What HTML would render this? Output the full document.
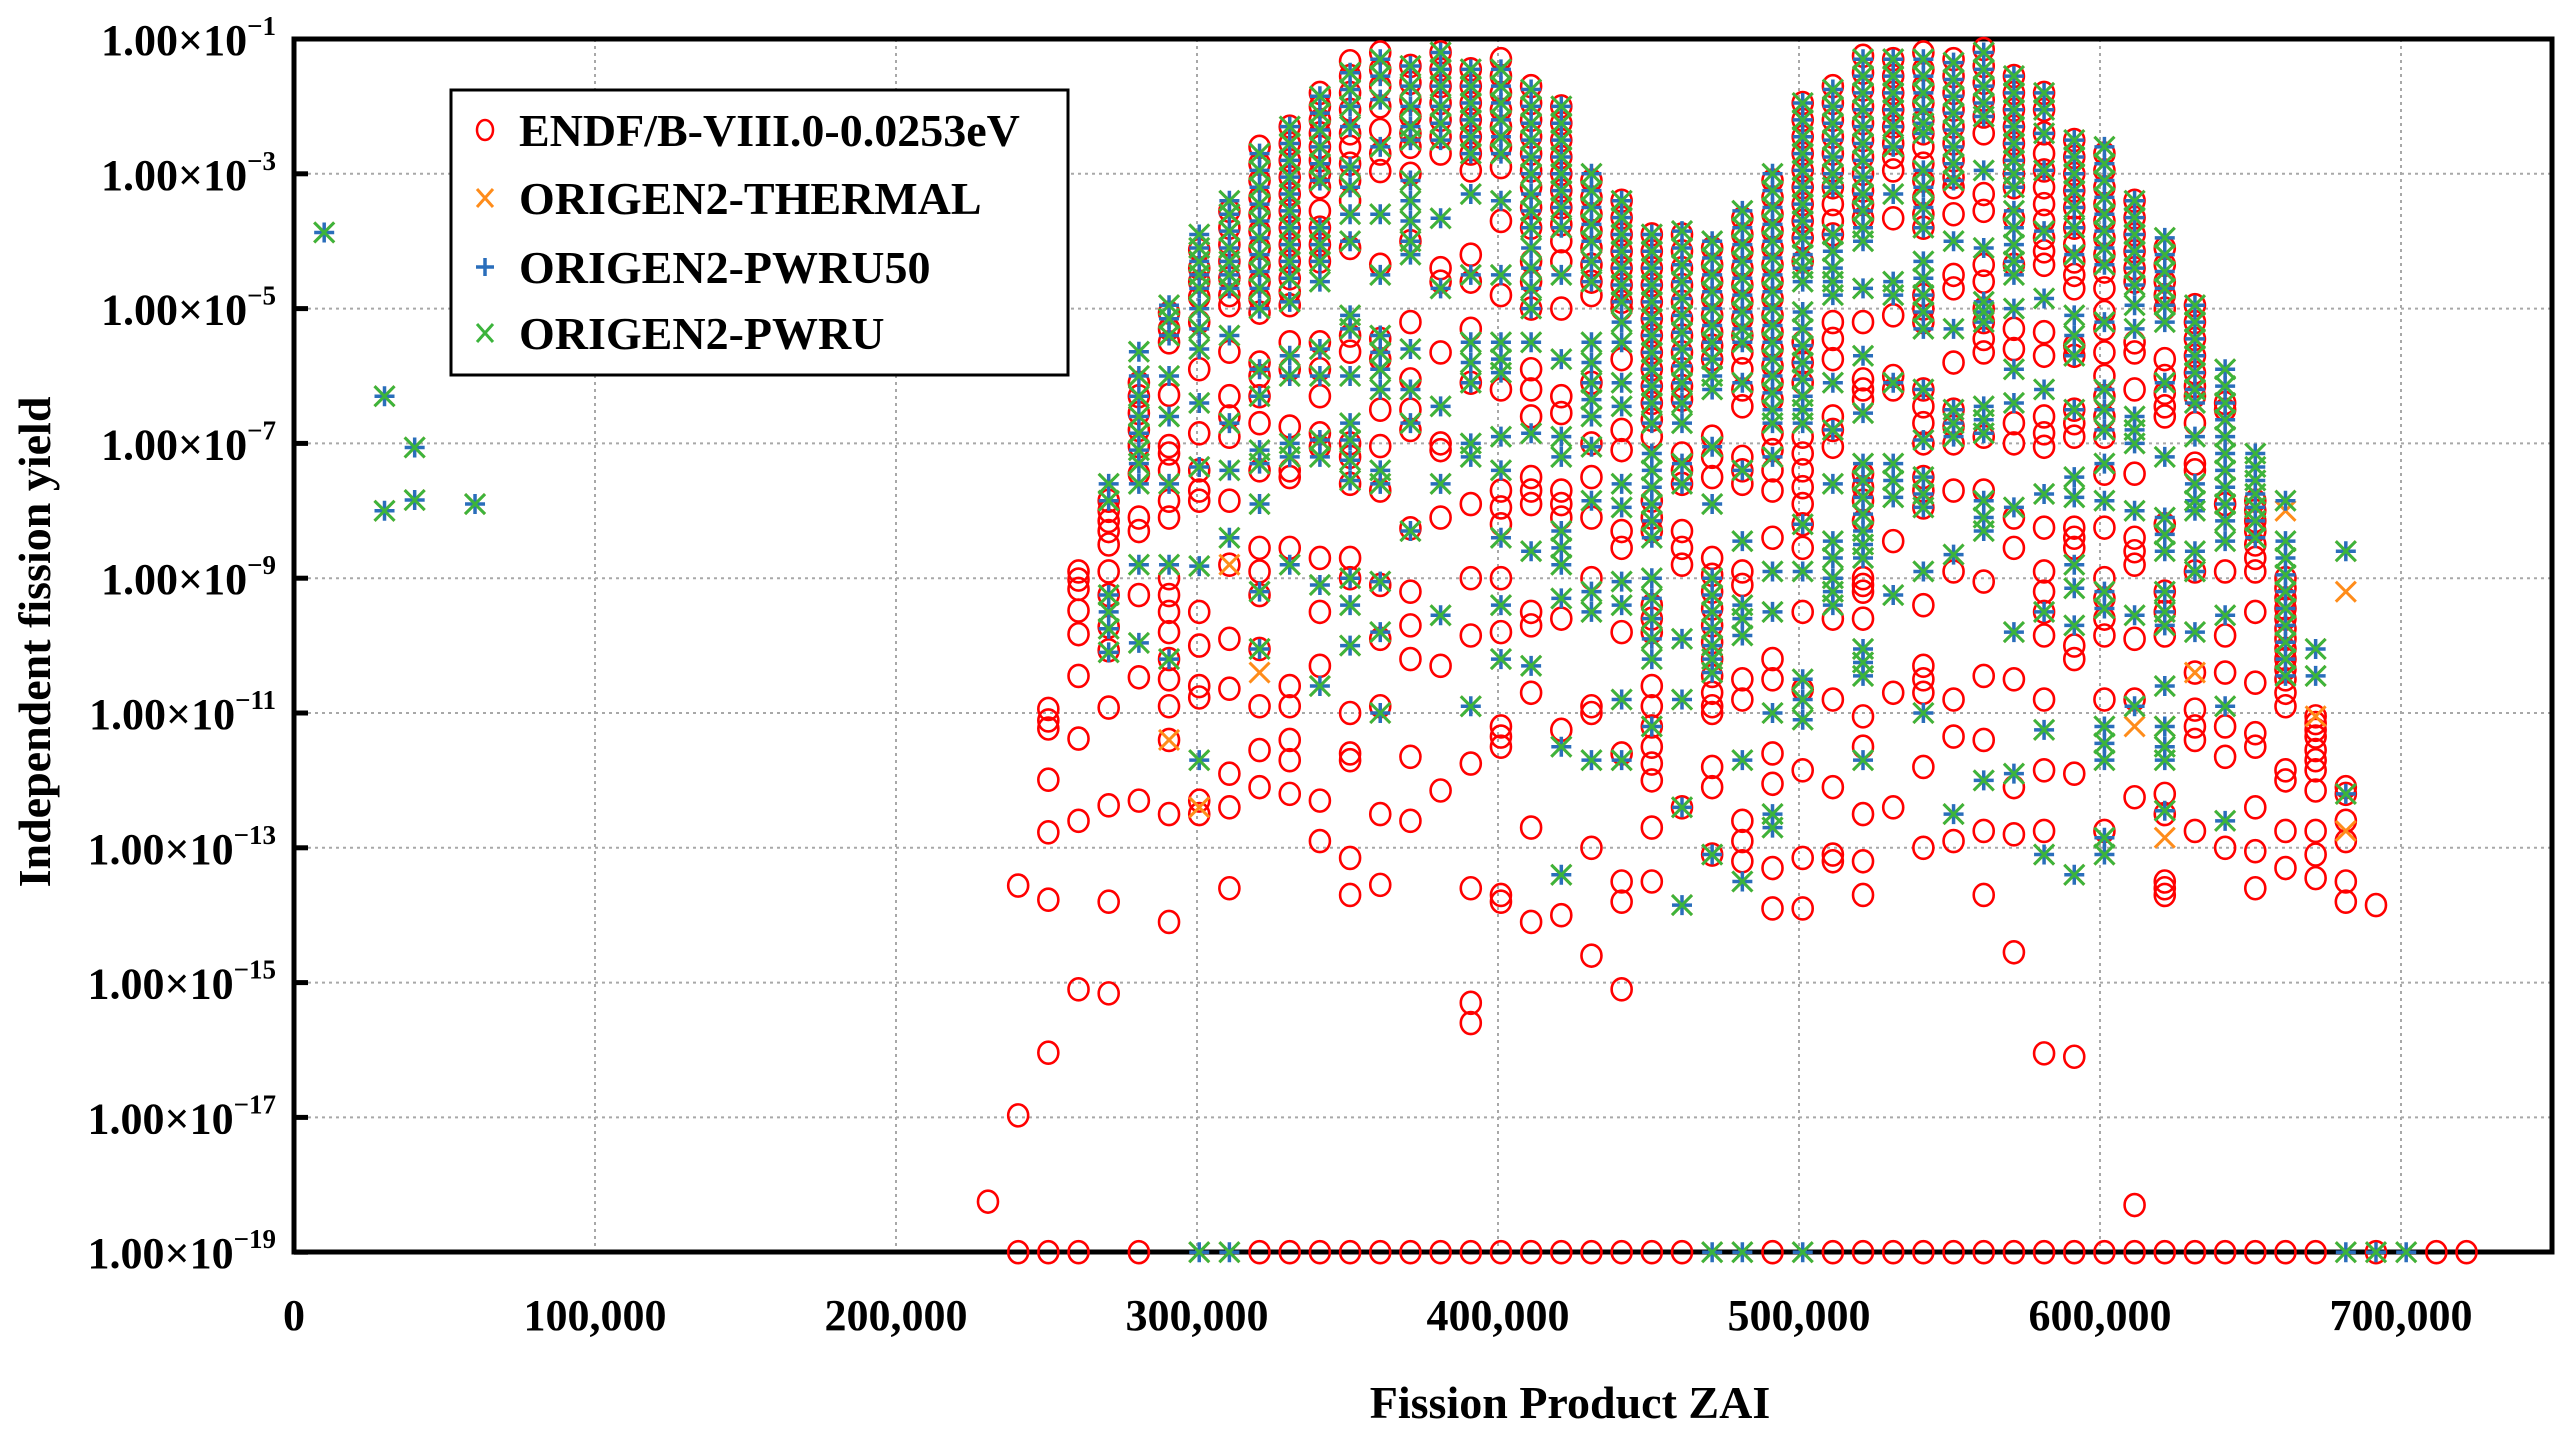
<!DOCTYPE html>
<html><head><meta charset="utf-8"><style>
html,body{margin:0;padding:0;background:#fff;}
svg{display:block;font-family:"Liberation Serif","DejaVu Serif",serif;font-weight:bold;}
</style></head><body>
<svg id="chart" width="2572" height="1438" viewBox="0 0 2572 1438" xmlns="http://www.w3.org/2000/svg">
<rect width="2572" height="1438" fill="#fff"/>
<g id="grid"></g>
<g id="axes"></g>
<g id="marks"></g>
<g id="legend">
  <rect x="451" y="90" width="617" height="285" fill="#fff" stroke="#000" stroke-width="3"/>
  <g>
    <ellipse cx="485" cy="130" rx="8" ry="10" fill="none" stroke="#ff0000" stroke-width="2.5"/>
    <text x="519" y="146" font-size="46">ENDF/B-VIII.0-0.0253eV</text>
  </g>
  <g>
    <path d="M477 189 L493 207 M493 189 L477 207" stroke="#ff8c1a" stroke-width="3"/>
    <text x="519" y="214" font-size="46">ORIGEN2-THERMAL</text>
  </g>
  <g>
    <path d="M476 267 L494 267 M485 258 L485 276" stroke="#2a6ebb" stroke-width="3.5"/>
    <text x="519" y="283" font-size="46">ORIGEN2-PWRU50</text>
  </g>
  <g>
    <path d="M477 324 L493 342 M493 324 L477 342" stroke="#3cb43c" stroke-width="3"/>
    <text x="519" y="349" font-size="46">ORIGEN2-PWRU</text>
  </g>
</g>
<text x="1570" y="1418" font-size="46" text-anchor="middle">Fission Product ZAI</text>
<text x="0" y="0" font-size="46" text-anchor="middle" transform="translate(50,642) rotate(-90)">Independent fission yield</text>
</svg>
<script>
// ---- data (log10 of yield; -19 = floor value 1e-19) ----
const xTicks = [0,100000,200000,300000,400000,500000,600000,700000];
const xTickLabels = ["0","100,000","200,000","300,000","400,000","500,000","600,000","700,000"];
const yTickExps = [-1,-3,-5,-7,-9,-11,-13,-15,-17,-19];

const endfZai = [230560,240590,250610,260640,270660,280690,290710,300740,310760,320780,330810,340830,350860,360880,370910,380930,390960,400980,411000,421030,431050,441080,451100,461130,471150,481180,491200,501230,511250,521270,531300,541320,551350,561370,571400,581420,591450,601470,611490,621520,631540,641570,651590,661620,671640,681670,691690,711740,721760];
const endfExp = [
[-18.25],
[-13.56,-16.97,-19],
[-10.94,-11.11,-11.23,-11.99,-12.77,-13.77,-16.04,-19],
[-8.9,-9.02,-9.16,-9.48,-9.83,-10.45,-11.38,-12.6,-15.1,-19],
[-7.85,-8.0,-8.15,-8.3,-8.5,-8.9,-9.25,-9.72,-10.07,-10.92,-12.37,-13.8,-15.16],
[-6.1,-6.3,-6.55,-6.8,-7.04,-7.45,-8.1,-8.3,-9.25,-10.47,-12.3,-19],
[-5.06,-5.3,-5.5,-6.28,-7.04,-7.15,-7.4,-7.85,-8.1,-9.0,-9.25,-9.5,-9.8,-10.2,-10.5,-10.9,-11.4,-12.5,-14.1],
[-4.13,-4.4,-4.6,-4.83,-5.2,-5.9,-6.85,-7.4,-7.7,-7.85,-9.5,-10.0,-10.6,-10.77,-12.3,-12.5],
[-3.55,-3.8,-4.05,-4.3,-4.55,-4.8,-4.95,-5.64,-6.3,-6.6,-6.9,-7.85,-8.8,-9.9,-10.64,-11.9,-12.4,-13.6],
[-2.6,-2.85,-3.1,-3.35,-3.6,-3.85,-4.1,-4.35,-4.6,-4.85,-5.06,-5.8,-6.0,-6.3,-6.7,-7.4,-8.55,-8.9,-9.25,-10.05,-10.9,-11.55,-12.1,-19],
[-2.3,-2.55,-2.8,-3.05,-3.3,-3.55,-3.8,-4.05,-4.3,-4.55,-4.75,-4.95,-5.5,-5.9,-6.75,-7.4,-7.5,-8.55,-10.6,-10.9,-11.4,-11.7,-12.2,-19],
[-1.8,-2.0,-2.2,-2.4,-2.6,-2.8,-3.0,-3.2,-3.55,-3.8,-4.05,-4.3,-5.5,-5.9,-6.3,-6.85,-7.05,-8.7,-9.5,-10.3,-12.3,-12.9,-19],
[-1.33,-1.55,-1.8,-2.05,-2.4,-2.6,-2.85,-3.1,-3.4,-4.1,-5.4,-5.64,-7.0,-7.2,-7.6,-8.7,-9.0,-11.0,-11.6,-11.7,-13.15,-13.7,-19],
[-1.2,-1.45,-1.7,-2.0,-2.35,-2.7,-2.96,-4.35,-5.45,-5.75,-6.5,-7.04,-7.7,-9.1,-9.9,-10.9,-12.5,-13.55,-19],
[-1.4,-1.65,-1.9,-2.15,-2.4,-2.6,-3.0,-4.0,-5.2,-6.05,-6.5,-6.8,-8.26,-9.2,-9.7,-10.2,-11.65,-12.6,-19],
[-1.2,-1.45,-1.7,-1.95,-2.2,-2.45,-2.7,-4.4,-4.6,-5.65,-7.0,-7.1,-8.1,-10.3,-12.15,-19],
[-1.45,-1.7,-1.95,-2.2,-2.45,-2.7,-2.95,-4.2,-4.6,-5.3,-6.1,-7.9,-9.0,-9.85,-11.75,-13.6,-15.3,-15.6,-19],
[-1.3,-1.55,-1.8,-2.05,-2.3,-2.6,-2.9,-3.7,-4.8,-6.2,-7.7,-7.95,-8.2,-9.0,-9.8,-11.2,-11.35,-11.5,-13.7,-13.8,-19],
[-1.7,-1.95,-2.2,-2.45,-2.7,-2.95,-3.2,-3.5,-3.8,-4.3,-4.6,-5.0,-5.9,-6.2,-6.6,-7.5,-7.7,-7.9,-9.5,-9.7,-10.7,-12.7,-14.1,-19],
[-2.0,-2.25,-2.5,-2.75,-3.0,-3.25,-3.5,-3.75,-4.0,-4.3,-5.0,-6.3,-6.55,-7.7,-7.9,-8.1,-9.6,-11.25,-14.0,-19],
[-3.1,-3.35,-3.6,-3.85,-4.1,-4.35,-4.6,-4.8,-6.1,-7.0,-7.5,-8.1,-9.0,-10.9,-11.0,-13.0,-14.6,-19],
[-3.4,-3.65,-3.9,-4.15,-4.4,-4.65,-4.9,-5.0,-5.75,-6.8,-7.1,-8.3,-8.55,-9.8,-11.6,-13.5,-13.8,-15.1,-19],
[-3.9,-4.15,-4.4,-4.65,-4.9,-5.15,-5.4,-5.65,-5.9,-6.15,-6.4,-6.65,-6.9,-7.85,-8.1,-8.3,-9.4,-9.6,-9.8,-10.6,-10.9,-11.2,-11.5,-11.75,-12.0,-12.7,-13.5,-19],
[-3.9,-4.15,-4.4,-4.65,-4.9,-5.15,-5.4,-5.65,-5.9,-6.15,-6.35,-7.15,-7.4,-7.6,-8.3,-8.55,-8.8,-12.4,-19],
[-4.1,-4.35,-4.6,-4.85,-5.1,-5.35,-5.55,-5.75,-6.9,-7.2,-7.5,-8.7,-8.95,-9.2,-9.45,-9.7,-9.95,-10.2,-10.45,-10.7,-10.9,-11.0,-11.8,-12.1,-13.1],
[-3.66,-3.9,-4.15,-4.4,-4.65,-4.9,-5.15,-5.4,-5.65,-5.9,-6.2,-6.45,-7.2,-7.4,-7.6,-8.9,-9.1,-10.5,-10.8,-12.6,-12.9,-13.2],
[-3.1,-3.35,-3.6,-3.85,-4.1,-4.35,-4.6,-4.85,-5.1,-5.35,-5.6,-5.85,-6.1,-6.35,-6.85,-7.1,-7.4,-7.7,-8.4,-10.2,-10.5,-11.6,-12.05,-13.3,-13.9,-19],
[-1.95,-2.2,-2.45,-2.7,-2.95,-3.2,-3.45,-3.7,-3.95,-4.3,-5.5,-5.8,-6.1,-6.9,-7.15,-7.4,-7.65,-7.9,-8.2,-8.55,-9.5,-10.65,-11.85,-13.15,-13.9],
[-1.7,-1.95,-2.2,-2.45,-2.7,-2.95,-3.2,-3.45,-3.7,-3.9,-5.2,-5.45,-5.75,-6.6,-6.8,-7.05,-9.6,-10.8,-12.1,-13.1,-13.2,-19],
[-1.25,-1.5,-1.75,-2.0,-2.25,-2.5,-2.75,-3.0,-3.25,-3.45,-3.66,-5.2,-6.05,-6.2,-6.35,-7.45,-7.65,-7.85,-8.15,-9.0,-9.1,-9.2,-9.6,-11.05,-11.5,-12.5,-13.2,-13.7,-19],
[-1.3,-1.55,-1.8,-2.05,-2.3,-2.55,-2.75,-2.95,-3.66,-5.1,-6.0,-6.2,-8.45,-10.7,-12.4,-19],
[-1.2,-1.45,-1.7,-1.95,-2.2,-2.4,-2.6,-2.85,-3.1,-3.35,-3.6,-3.8,-4.8,-5.0,-5.2,-6.2,-6.45,-6.7,-7.0,-7.5,-7.7,-7.95,-9.4,-10.3,-10.5,-10.7,-11.8,-13.0,-19],
[-1.3,-1.55,-1.8,-2.05,-2.3,-2.55,-2.8,-3.05,-3.2,-3.6,-4.5,-4.7,-5.8,-6.5,-6.75,-7.0,-7.7,-8.9,-10.8,-11.35,-12.9,-19],
[-1.15,-1.4,-1.65,-1.9,-2.15,-2.4,-3.3,-3.55,-4.35,-4.6,-5.0,-5.2,-5.45,-5.65,-6.9,-7.7,-9.05,-10.45,-11.4,-12.75,-13.7,-19],
[-1.55,-1.8,-2.05,-2.3,-2.55,-2.8,-3.0,-3.2,-3.66,-4.35,-5.3,-5.6,-6.7,-7.0,-8.1,-8.55,-10.5,-12.1,-12.8,-14.55,-19],
[-1.8,-2.05,-2.4,-2.7,-2.95,-3.2,-3.45,-3.7,-3.95,-4.15,-4.35,-5.35,-5.7,-6.6,-6.85,-7.05,-8.25,-8.9,-9.2,-9.5,-9.85,-10.8,-11.85,-12.75,-16.05,-19],
[-2.5,-2.75,-3.0,-3.25,-3.5,-3.8,-4.05,-4.3,-4.5,-4.7,-5.55,-5.7,-6.5,-6.7,-6.9,-8.25,-8.4,-8.55,-10.0,-10.2,-11.9,-16.1,-19],
[-2.7,-2.95,-3.2,-3.45,-3.7,-3.95,-4.2,-4.45,-4.7,-5.05,-5.3,-5.65,-6.0,-6.3,-6.6,-6.9,-7.45,-8.25,-9.0,-9.3,-9.6,-9.85,-10.8,-12.75,-19],
[-3.4,-3.65,-3.9,-4.15,-4.4,-4.6,-5.5,-5.65,-6.2,-7.45,-8.4,-8.6,-8.8,-9.9,-10.8,-12.25,-18.3,-19],
[-4.1,-4.35,-4.6,-4.8,-5.0,-5.75,-6.0,-6.25,-6.45,-6.6,-8.2,-9.2,-9.5,-9.85,-12.2,-12.5,-13.5,-13.6,-13.7,-19],
[-4.95,-5.2,-5.45,-5.7,-5.95,-6.15,-6.3,-6.7,-7.3,-7.4,-8.9,-10.4,-10.95,-11.2,-11.4,-12.75,-19],
[-6.4,-6.5,-7.9,-8.9,-9.85,-10.4,-11.2,-11.65,-13.0,-19],
[-7.85,-8.0,-8.15,-8.3,-8.5,-8.7,-8.9,-9.5,-10.55,-11.3,-11.5,-12.4,-13.05,-13.6,-19],
[-9.0,-9.15,-9.3,-9.45,-9.6,-9.75,-9.9,-10.05,-10.2,-10.35,-10.5,-10.7,-10.9,-11.85,-12.0,-12.75,-13.3,-19],
[-11.05,-11.15,-11.25,-11.35,-11.55,-11.7,-11.85,-12.15,-12.75,-13.1,-13.45,-19],
[-12.1,-12.2,-12.6,-12.9,-13.5,-13.8],
[-13.85,-19],
[-19],
[-19]
];

const origenZai = [10030,30070,40090,60140,270660,280690,290710,300740,310760,320780,330810,340830,350860,360880,370910,380930,390960,400980,411000,421030,431050,441080,451100,461130,471150,481180,491200,501230,511250,521270,531300,541320,551350,561370,571400,581420,591450,601470,611490,621520,631540,641570,651590,661620,671640,681670,691690,701720];
const origenExp = [
[-3.87],
[-6.3,-8.0],
[-7.06,-7.84],
[-7.9],
[-7.6,-7.85,-9.25,-9.5,-9.75,-10.1],
[-5.64,-6.0,-6.3,-6.6,-6.85,-7.1,-7.3,-7.6,-8.8,-9.96],
[-4.95,-5.15,-5.4,-6.0,-6.6,-7.6,-8.8,-10.2],
[-3.9,-4.1,-4.3,-4.5,-4.7,-5.0,-5.3,-5.6,-6.4,-7.35,-8.82,-11.7,-19],
[-3.4,-3.6,-3.85,-4.1,-4.3,-4.5,-4.7,-5.4,-6.7,-7.4,-8.4,-19],
[-2.7,-2.95,-3.2,-3.45,-3.7,-3.95,-4.2,-4.45,-4.7,-5.0,-5.9,-6.3,-7.1,-7.3,-7.9,-9.2,-10.05],
[-2.3,-2.55,-2.8,-3.05,-3.3,-3.55,-3.8,-4.05,-4.3,-4.55,-4.9,-5.7,-6.0,-7.0,-7.2,-8.8],
[-1.85,-2.1,-2.35,-2.6,-2.85,-3.1,-3.8,-4.05,-4.3,-4.6,-5.6,-6.0,-6.95,-7.2,-9.1,-10.6],
[-1.5,-1.75,-2.0,-2.3,-2.9,-3.2,-3.6,-4.0,-5.1,-5.3,-6.0,-6.7,-6.95,-7.25,-7.55,-9.0,-9.4,-10.0],
[-1.3,-1.55,-1.9,-2.6,-3.6,-4.5,-5.4,-5.65,-5.9,-6.2,-7.4,-7.6,-9.05,-9.8,-11.0],
[-1.4,-1.7,-2.0,-2.3,-2.5,-3.1,-3.4,-3.7,-4.0,-4.2,-5.6,-6.2,-6.7,-8.3],
[-1.2,-1.45,-1.7,-2.0,-2.25,-2.5,-3.66,-4.7,-6.45,-7.6,-9.55],
[-1.45,-1.7,-1.95,-2.2,-2.45,-2.7,-3.3,-4.5,-5.5,-5.8,-6.1,-7.0,-7.2,-10.9],
[-1.45,-1.7,-1.95,-2.2,-2.45,-2.7,-3.4,-4.5,-5.5,-5.75,-5.95,-6.9,-7.4,-8.4,-9.4,-10.2],
[-1.75,-2.0,-2.25,-2.5,-2.75,-3.0,-3.3,-3.55,-3.8,-4.1,-4.4,-4.7,-5.0,-5.5,-6.85,-8.6,-10.3],
[-2.0,-2.25,-2.5,-2.75,-3.0,-3.25,-3.5,-3.8,-4.5,-5.75,-6.9,-7.2,-8.3,-8.55,-8.8,-9.3,-11.5,-13.4],
[-3.0,-3.25,-3.5,-3.75,-4.0,-4.3,-4.6,-5.5,-5.8,-6.1,-6.35,-6.6,-7.05,-7.85,-9.2,-9.5,-11.7],
[-3.4,-3.65,-3.9,-4.15,-4.4,-4.65,-4.9,-5.2,-5.5,-6.1,-6.45,-7.6,-7.95,-9.05,-9.4,-10.8,-11.7],
[-3.9,-4.15,-4.4,-4.65,-4.9,-5.15,-5.4,-5.65,-5.9,-6.15,-6.4,-6.7,-7.15,-7.4,-7.65,-7.9,-8.15,-8.4,-9.0,-9.3,-9.6,-9.9,-10.2,-11.2],
[-3.85,-4.1,-4.35,-4.6,-4.85,-5.1,-5.35,-5.6,-5.85,-6.1,-6.4,-6.7,-7.3,-7.6,-9.9,-10.8,-12.4,-13.85],
[-4.0,-4.25,-4.5,-4.75,-5.0,-5.25,-5.5,-5.75,-6.0,-6.2,-7.05,-7.9,-9.0,-9.25,-9.5,-9.75,-10.0,-10.2,-10.4,-13.1,-19],
[-3.55,-3.8,-4.05,-4.3,-4.55,-4.8,-5.05,-5.3,-5.5,-6.1,-7.4,-8.45,-9.4,-9.6,-9.85,-11.7,-13.5,-19],
[-3.0,-3.25,-3.5,-3.75,-4.0,-4.25,-4.5,-4.75,-5.0,-5.25,-5.5,-5.75,-6.0,-6.25,-6.5,-6.7,-7.2,-8.9,-9.5,-11.0,-12.5,-12.7],
[-1.95,-2.2,-2.45,-2.7,-2.95,-3.2,-3.45,-3.7,-3.95,-4.2,-4.4,-4.6,-5.05,-5.3,-5.55,-5.8,-6.05,-6.3,-6.5,-6.7,-8.2,-8.9,-10.5,-10.8,-11.1,-19],
[-1.75,-2.0,-2.25,-2.5,-2.75,-3.0,-3.2,-3.9,-4.15,-4.4,-4.6,-4.8,-6.1,-6.8,-7.6,-8.45,-8.7,-9.0,-9.2,-9.4],
[-1.3,-1.55,-1.8,-2.05,-2.3,-2.55,-2.8,-3.05,-3.3,-3.55,-3.8,-4.0,-4.7,-5.7,-6.55,-7.3,-7.55,-7.8,-8.05,-8.3,-8.5,-8.7,-10.05,-10.25,-10.45,-11.7],
[-1.3,-1.55,-1.8,-2.05,-2.3,-2.6,-3.3,-4.6,-4.8,-6.1,-7.3,-7.55,-7.8,-9.25],
[-1.3,-1.55,-1.8,-2.05,-2.25,-2.4,-2.95,-3.2,-3.5,-3.8,-4.3,-4.55,-4.8,-5.05,-5.3,-6.2,-6.95,-7.5,-7.75,-7.95,-8.9,-11.0],
[-1.35,-1.6,-1.85,-2.1,-2.35,-2.6,-2.85,-3.1,-4.0,-5.3,-6.5,-6.7,-6.9,-8.65,-12.5],
[-1.2,-1.45,-1.7,-1.95,-2.15,-2.95,-4.1,-4.9,-5.05,-5.2,-6.45,-6.65,-6.85,-7.85,-8.1,-8.3,-12.0],
[-1.55,-1.8,-2.05,-2.3,-2.55,-2.8,-3.0,-3.2,-3.55,-3.8,-4.05,-4.3,-4.5,-5.0,-5.9,-6.4,-7.95,-9.8,-11.9],
[-1.8,-2.05,-2.4,-2.95,-3.85,-4.85,-6.2,-7.75,-9.5,-11.25,-13.1],
[-2.5,-2.75,-3.0,-3.25,-3.5,-3.8,-4.2,-5.1,-5.4,-5.7,-6.5,-7.5,-7.8,-8.8,-9.15,-9.7,-13.4],
[-2.6,-2.85,-3.1,-3.35,-3.6,-3.85,-4.1,-4.35,-5.2,-6.2,-6.5,-6.8,-7.3,-7.85,-9.2,-9.45,-11.2,-11.45,-11.7,-12.85,-13.1],
[-3.4,-3.65,-3.9,-4.15,-4.4,-4.65,-4.95,-5.3,-6.6,-6.8,-7.0,-8.0,-9.55,-10.9],
[-3.95,-4.2,-4.45,-4.7,-4.95,-5.2,-6.1,-7.2,-8.1,-8.35,-8.6,-9.2,-9.5,-9.7,-10.6,-11.2,-11.5,-11.7,-12.45],
[-4.95,-5.2,-5.45,-5.7,-5.95,-6.2,-6.4,-6.9,-7.6,-7.85,-8.0,-8.6,-8.9,-9.8],
[-5.9,-6.15,-6.4,-6.65,-6.9,-7.15,-7.4,-7.65,-7.9,-8.15,-8.45,-9.55,-10.9,-12.6],
[-7.15,-7.35,-7.55,-7.75,-7.95,-8.15,-8.4],
[-7.85,-8.45,-8.7,-8.95,-9.2,-9.45,-9.7,-9.95,-10.2,-10.45],
[-10.05,-10.45],
[-8.6,-12.2,-19],
[-19],
[-19]
];

// points where ORIGEN2-THERMAL differs (orange-only marks)
const thermalExtraZai = [280690,290710,300740,310760,320780,611490,621520,621520,631540,661620,671640,681670,681670];
const thermalExtraExp = [-6.0,-11.4,-12.4,-8.8,-10.4,-11.2,-11.2,-12.85,-10.4,-8.0,-11.05,-9.2,-12.75];

// ---- axes mapping ----
const X0 = 294, PX_PER_100K = 301.0, Y_TOP = 39, PX_PER_DEC = 67.4;
const PLOT_L = 294, PLOT_R = 2552, PLOT_T = 39, PLOT_B = 1252;
function xScale(z){ return X0 + z / 100000 * PX_PER_100K; }
function yScale(e){ return Y_TOP + (-1 - e) * PX_PER_DEC; }

const NS = "http://www.w3.org/2000/svg";
function mk(tag, attrs, parent){
  const el = document.createElementNS(NS, tag);
  for (const k in attrs) el.setAttribute(k, attrs[k]);
  parent.appendChild(el);
  return el;
}
const grid = document.getElementById('grid');
const axes = document.getElementById('axes');
const marks = document.getElementById('marks');

// grid
xTicks.forEach(function(v){
  if (v === 0) return;
  const x = xScale(v);
  const l = mk('line', {x1:x, x2:x, y1:PLOT_T, y2:PLOT_B, stroke:'#a8a8a8', 'stroke-width':2, 'stroke-dasharray':'3 4'}, grid);
  
  
});
yTickExps.forEach(function(e){
  if (e === -1 || e === -19) return;
  const y = yScale(e);
  const l = mk('line', {x1:PLOT_L, x2:PLOT_R, y1:y, y2:y, stroke:'#a8a8a8', 'stroke-width':2, 'stroke-dasharray':'3 4'}, grid);
  
  
});

// frame
const frame = mk('rect', {x:PLOT_L, y:PLOT_T, width:PLOT_R-PLOT_L, height:PLOT_B-PLOT_T, fill:'none', stroke:'#000', 'stroke-width':5}, axes);



// y ticks + labels
yTickExps.forEach(function(e){
  const y = yScale(e);
  const t = mk('line', {x1:PLOT_L, x2:PLOT_L+14, y1:y, y2:y, stroke:'#000', 'stroke-width':5}, axes);
  
  
  const tx = mk('text', {x:276, y:y+16, 'font-size':44, 'text-anchor':'end'}, axes);
  
  
  tx.appendChild(document.createTextNode('1.00\u00d710'));
  const sup = mk('tspan', {dy:-20, 'font-size':27}, tx);
  sup.textContent = '\u2212' + (-e);
});

// x labels
xTicks.forEach(function(v, i){
  const tx = mk('text', {x:xScale(v), y:1330, 'font-size':44, 'text-anchor':'middle'}, axes);
  
  
  tx.textContent = xTickLabels[i];
});

// markers
const R = 10;
function circle(x, y){
  const c = mk('ellipse', {cx:x, cy:y, rx:R, ry:R+1, fill:'none', stroke:'#ff0000', 'stroke-width':2.6}, marks);
  
  
}
function cross(x, y, color, name){
  const p = mk('path', {d:'M'+(x-R)+' '+(y-R)+'L'+(x+R)+' '+(y+R)+'M'+(x+R)+' '+(y-R)+'L'+(x-R)+' '+(y+R), stroke:color, 'stroke-width':3, fill:'none'}, marks);
  
  
}
function plus(x, y, color){
  const p = mk('path', {d:'M'+(x-R)+' '+y+'L'+(x+R)+' '+y+'M'+x+' '+(y-R)+'L'+x+' '+(y+R), stroke:color, 'stroke-width':3.5, fill:'none'}, marks);
  
  
}

endfZai.forEach(function(z, i){
  endfExp[i].forEach(function(e){ circle(xScale(z), yScale(e)); });
});
thermalExtraZai.forEach(function(z, i){
  cross(xScale(z), yScale(thermalExtraExp[i]), '#ff8c1a', 'thermal-point');
});
origenZai.forEach(function(z, i){
  origenExp[i].forEach(function(e){ cross(xScale(z), yScale(e), '#ff8c1a', 'thermal-point'); });
});
origenZai.forEach(function(z, i){
  origenExp[i].forEach(function(e){ plus(xScale(z), yScale(e), '#2a6ebb'); });
});
origenZai.forEach(function(z, i){
  origenExp[i].forEach(function(e){ cross(xScale(z), yScale(e), '#3cb43c', 'pwru-point'); });
});

// keep legend on top
document.getElementById('chart').appendChild(document.getElementById('legend'));
</script>
</body></html>
